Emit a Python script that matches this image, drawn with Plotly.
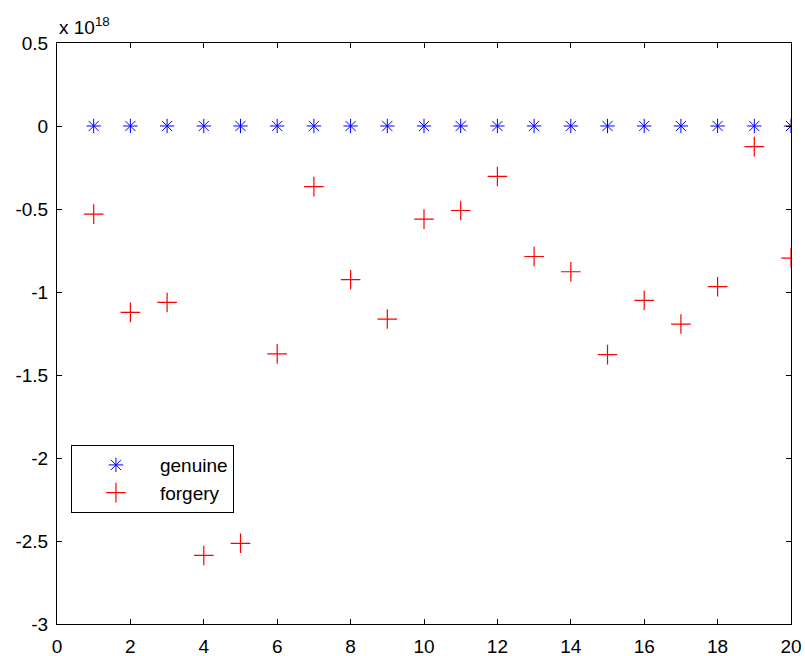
import plotly.graph_objects as go

# sample index
samples = list(range(1, 21))

# scores in units of 1e18
scale_exp = 18
genuine = [0.0] * 20
forgery = [-0.531, -1.123, -1.063, -2.587, -2.514, -1.373, -0.365, -0.926, -1.163, -0.561,
           -0.509, -0.304, -0.786, -0.878, -1.377, -1.050, -1.193, -0.968, -0.124, -0.796]

y_ticks = [0.5, 0, -0.5, -1, -1.5, -2, -2.5, -3]
y_ticktext = ["0.5", "0", "-0.5", "-1", "-1.5", "-2", "-2.5", "-3"]
x_ticks = list(range(0, 21, 2))

font_family = "Liberation Sans, Arial, sans-serif"

fig = go.Figure()
fig.add_trace(go.Scatter(
    x=samples, y=genuine, mode="markers", name="genuine",
    marker=dict(symbol="asterisk-open", size=12, color="#0000ff",
                line=dict(color="#0000ff", width=1)),
))
fig.add_trace(go.Scatter(
    x=samples, y=forgery, mode="markers", name="forgery",
    marker=dict(symbol="cross-thin-open", size=14, color="#ff0000",
                line=dict(color="#ff0000", width=1.2)),
))

axis_common = dict(
    showgrid=False, zeroline=False, showline=True, linecolor="black", linewidth=1,
    ticks="inside", ticklen=5, tickcolor="black", mirror="ticks", automargin=False,
    tickfont=dict(family=font_family, size=19, color="black"),
)

fig.update_layout(
    width=805, height=656,
    margin=dict(l=57, r=14, t=43, b=32),
    paper_bgcolor="white", plot_bgcolor="white",
    font=dict(family=font_family, size=19, color="black"),
    xaxis=dict(range=[0, 20], tickvals=x_ticks, ticklabelstandoff=5, **axis_common),
    yaxis=dict(range=[-3, 0.5], tickvals=y_ticks, ticktext=y_ticktext,
               ticklabelstandoff=4, **axis_common),
    legend=dict(
        x=0.019, y=0.308, xanchor="left", yanchor="top",
        bordercolor="black", borderwidth=1, bgcolor="white",
        font=dict(family=font_family, size=19, color="black"),
        itemwidth=78, tracegroupgap=0,
    ),
    showlegend=True,
    annotations=[dict(
        text=f"x 10<sup>{scale_exp}</sup>", xref="paper", yref="paper",
        x=0, y=1, xanchor="left", yanchor="bottom", yshift=3, showarrow=False,
        font=dict(family=font_family, size=19, color="black"),
    )],
)

fig.write_html("out.html")
